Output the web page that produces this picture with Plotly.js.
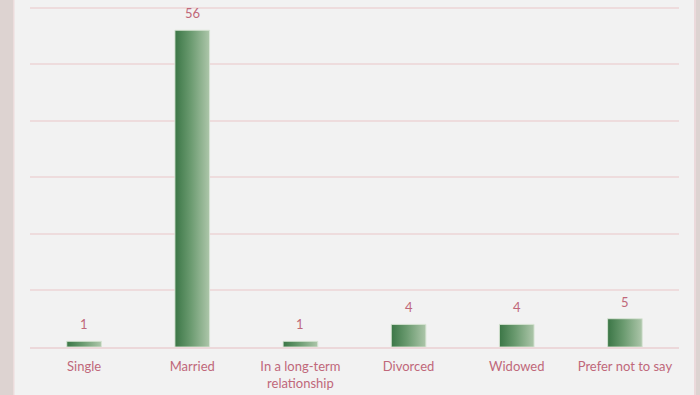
<!DOCTYPE html>
<html>
<head>
<meta charset="utf-8">
<script src="https://cdn.plot.ly/plotly-3.0.1.min.js"></script>
<style>html,body{margin:0;padding:0;background:#f2f2f2;}#chart{width:700px;height:395px;}</style>
</head>
<body>
<div id="chart"></div>
<script>
const categories = ["Single", "Married", "In a long-term<br>relationship", "Divorced", "Widowed", "Prefer not to say"];
const counts = [1, 56, 1, 4, 4, 5];

const textColor = "#c0687a";
const barWidth = 0.32;
const fontFam = "Lato, 'Open Sans', sans-serif";

const traces = [{
  type: "bar", x: categories, y: counts, width: barWidth,
  marker: {color: "#6a9a6f", line: {color: "rgba(215,228,212,0.9)", width: 1}},
  hoverinfo: "skip", showlegend: false
}];

const annotations = categories.map((c, i) => ({
  x: c, y: counts[i], xref: "x", yref: "y", text: String(counts[i]),
  showarrow: false, yanchor: "bottom", yshift: 7,
  font: {color: textColor, size: 13, family: fontFam}
}));

const layout = {
  width: 700, height: 395,
  margin: {l: 30, r: 21, t: 2, b: 48},
  paper_bgcolor: "#f2f2f2", plot_bgcolor: "#f2f2f2",
  showlegend: false,
  font: {family: fontFam, color: textColor, size: 13},
  annotations: annotations,
  xaxis: {
    type: "category", showgrid: false, showline: true, linecolor: "#ecd8da", linewidth: 1.5,
    ticks: "", ticklabelstandoff: 7, tickfont: {color: textColor, size: 13}, fixedrange: true
  },
  yaxis: {
    range: [0, 61], dtick: 10, showticklabels: false, showgrid: true,
    gridcolor: "#eedcdd", gridwidth: 2, zeroline: false, ticks: "", fixedrange: true
  },
  shapes: [
    {type: "rect", xref: "paper", yref: "paper", x0: -30/649, x1: -17/649, y0: -0.2, y1: 1.1,
     fillcolor: "#ddd3d1", line: {width: 0}, layer: "below"},
    {type: "rect", xref: "paper", yref: "paper", x0: -17/649, x1: -15.5/649, y0: -0.2, y1: 1.1,
     fillcolor: "#ecdcdc", line: {width: 0}, layer: "below"},
    {type: "rect", xref: "paper", yref: "paper", x0: 1 + 15/649, x1: 1 + 17/649, y0: -0.2, y1: 1.1,
     fillcolor: "#ecd9db", line: {width: 0}, layer: "below"},
    {type: "rect", xref: "paper", yref: "paper", x0: 1 + 17/649, x1: 1 + 21/649, y0: -0.2, y1: 1.1,
     fillcolor: "#ddd3d1", line: {width: 0}, layer: "below"}
  ]
};

function applyGradient(gd) {
  const svg = gd.querySelector("svg.main-svg");
  if (!svg) return;
  const ns = "http://www.w3.org/2000/svg";
  let defs = svg.querySelector("defs");
  if (!defs) { defs = document.createElementNS(ns, "defs"); svg.insertBefore(defs, svg.firstChild); }
  if (!svg.querySelector("#barGrad")) {
    const lg = document.createElementNS(ns, "linearGradient");
    lg.setAttribute("id", "barGrad");
    lg.setAttribute("x1", "0"); lg.setAttribute("y1", "0");
    lg.setAttribute("x2", "1"); lg.setAttribute("y2", "0");
    [["0", "#3b7646"], ["0.45", "#6a9a6f"], ["1", "#adc6aa"]].forEach(([o, c]) => {
      const s = document.createElementNS(ns, "stop");
      s.setAttribute("offset", o); s.setAttribute("stop-color", c);
      lg.appendChild(s);
    });
    defs.appendChild(lg);
  }
  gd.querySelectorAll(".barlayer .point path").forEach(p => {
    p.style.fill = "url(#barGrad)";
    p.style.fillOpacity = "1";
  });
}

Plotly.newPlot("chart", traces, layout, {displayModeBar: false, staticPlot: true})
  .then(applyGradient);
</script>
</body>
</html>
